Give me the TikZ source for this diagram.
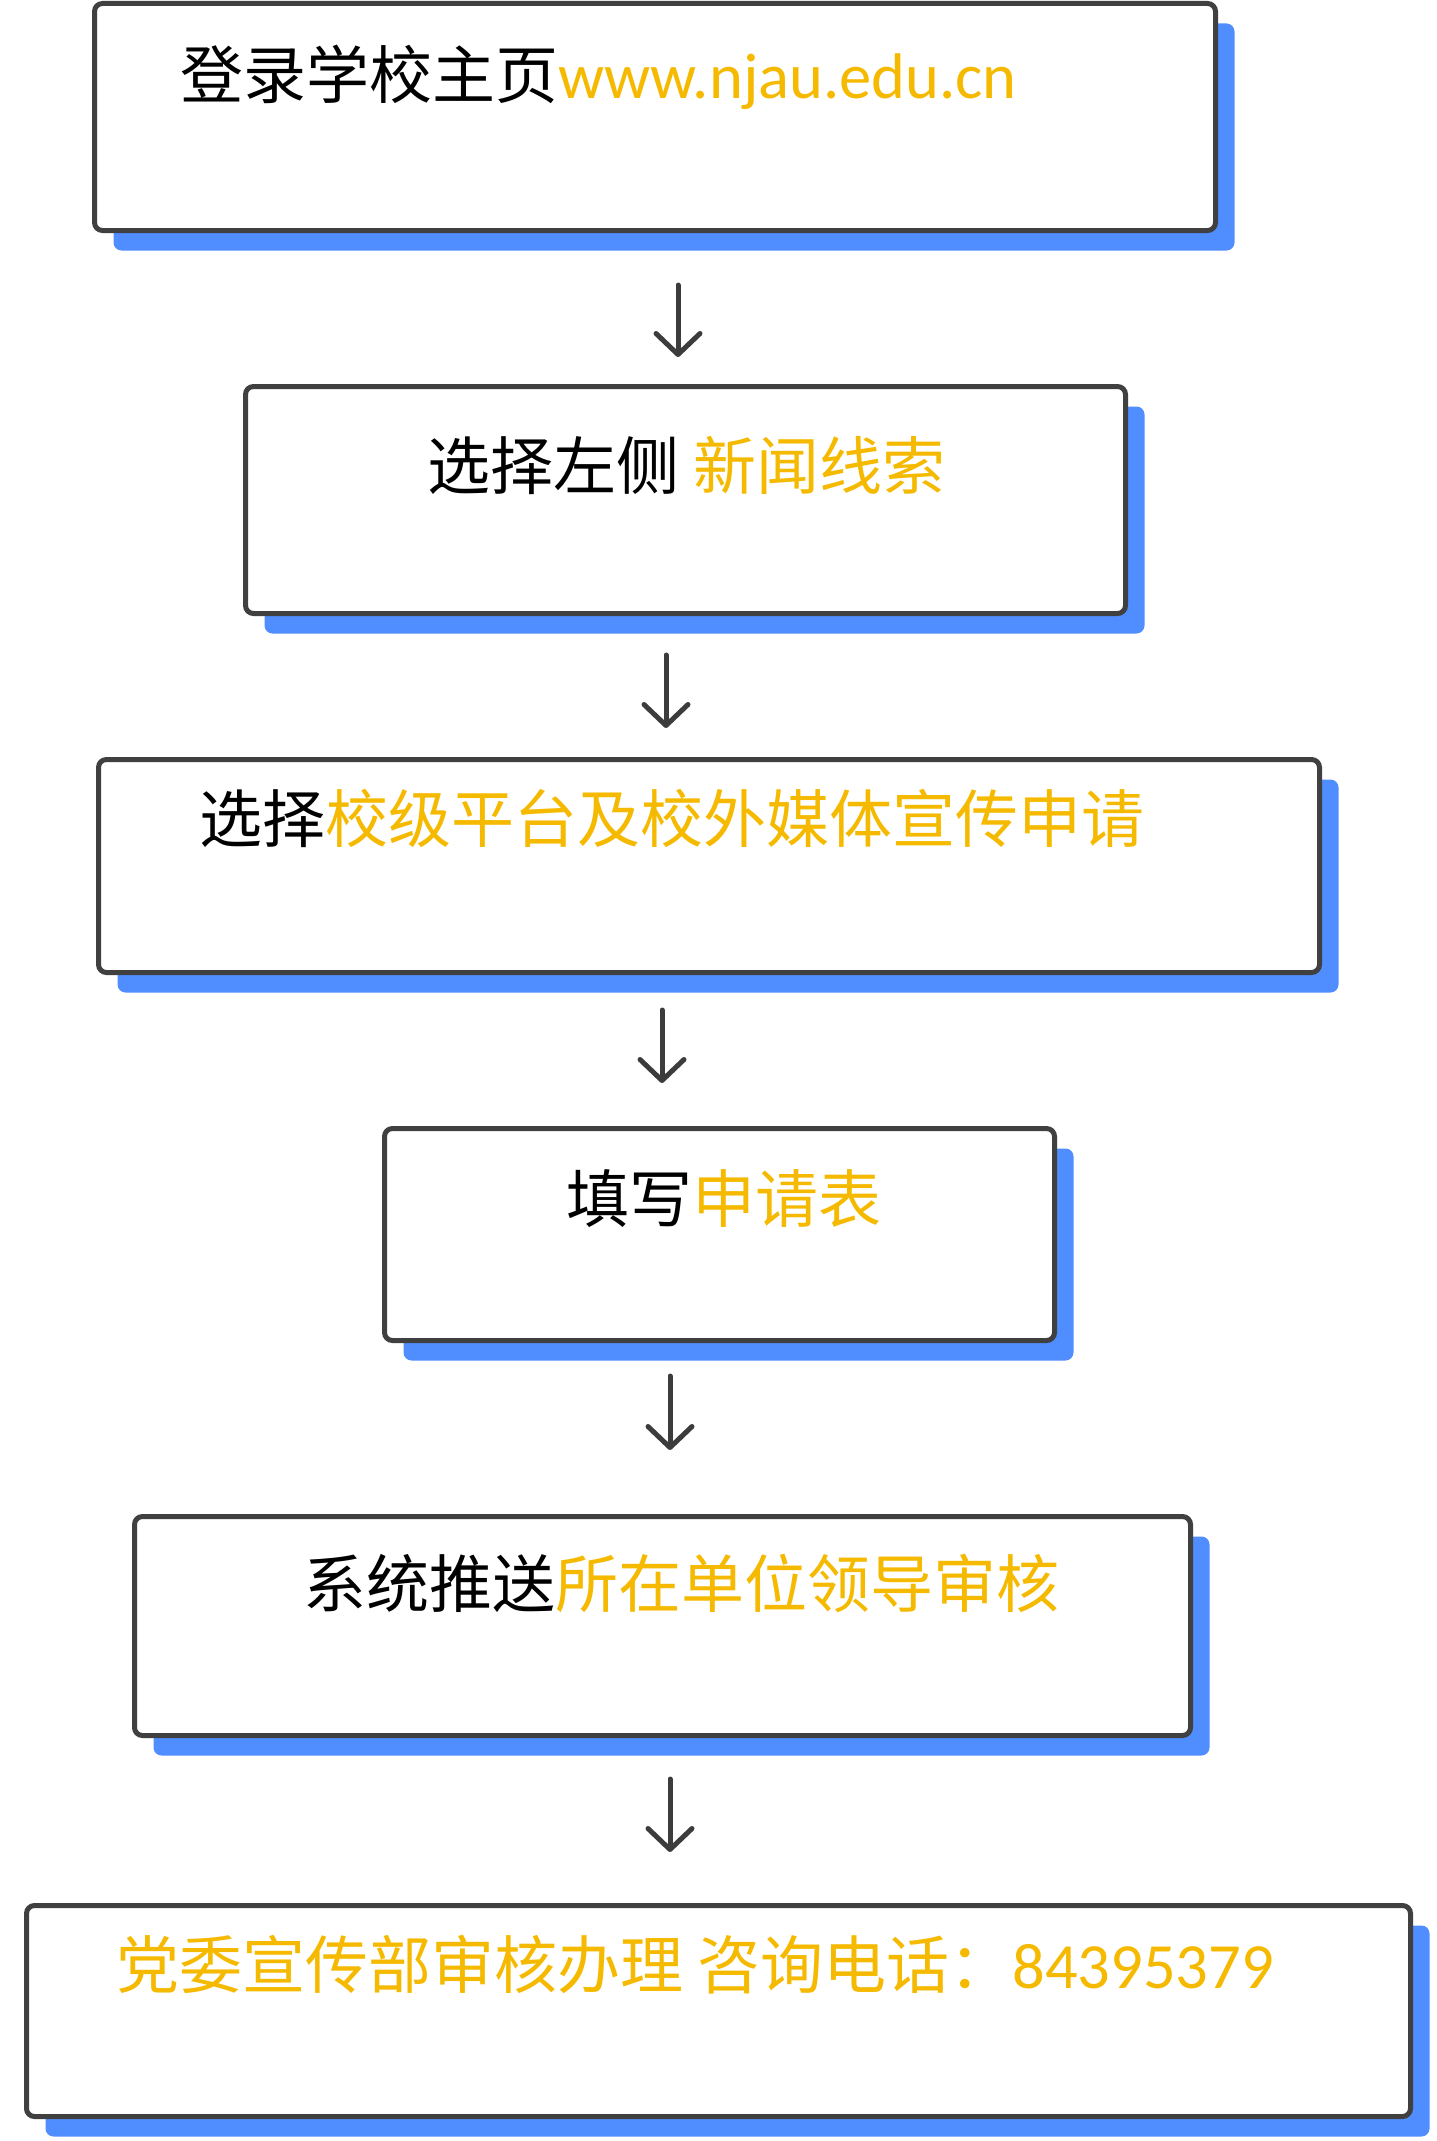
\documentclass[tikz,border=0pt]{standalone}
\usepackage{fontspec}
\setmainfont{Carlito}
\newfontfamily\cjk{Noto Sans CJK SC}
\usetikzlibrary{arrows.meta,shadows}
\definecolor{yel}{RGB}{245,186,0}
\definecolor{shadowblue}{RGB}{80,142,255}
\definecolor{edge}{RGB}{64,64,64}
\definecolor{arrowgray}{RGB}{60,60,60}
\newcommand{\latinbig}{\fontsize{64.5}{75}\selectfont}
\tikzset{
  box/.style={rectangle, rounded corners=8pt, draw=edge, line width=5pt, fill=white,
    general shadow={fill=shadowblue, shadow xshift=19pt, shadow yshift=-20pt}},
  label/.style={anchor=base west, inner sep=0pt, font=\fontsize{63}{75}\selectfont},
  flow/.style={draw=arrowgray, line width=5pt, line cap=round,
    -{Straight Barb[length=21pt,width=44pt,round]}}
}
\begin{document}
\begin{tikzpicture}[x=1pt,y=-1pt]
\useasboundingbox (0,0) rectangle (1436,2141);
% boxes
\node[box, minimum width=1121pt, minimum height=227pt] (b1) at (655,117) {};
\node[box, minimum width=880pt, minimum height=227pt] (b2) at (685.5,500) {};
\node[box, minimum width=1221pt, minimum height=213pt] (b3) at (709,866) {};
\node[box, minimum width=670pt, minimum height=212pt] (b4) at (719.5,1234.5) {};
\node[box, minimum width=1056pt, minimum height=219pt] (b5) at (662.5,1626) {};
\node[box, minimum width=1384pt, minimum height=211pt] (b6) at (718.5,2011) {};
% texts
\node[label] (t1) at (180,98) {{\cjk 登录学校主页}\textcolor{yel}{\latinbig www.njau.edu.cn}};
\node[label] (t2) at (427,489) {{\cjk 选择左侧 \textcolor{yel}{新闻线索}}};
\node[label] (t3) at (199,842) {{\cjk 选择\textcolor{yel}{校级平台及校外媒体宣传申请}}};
\node[label] (t4) at (566,1222) {{\cjk 填写\textcolor{yel}{申请表}}};
\node[label] (t5) at (303,1607) {{\cjk 系统推送\textcolor{yel}{所在单位领导审核}}};
\node[label, text=yel] (t6) at (116,1988) {{\cjk 党委宣传部审核办理 咨询电话：}{\latinbig 84395379}};
% arrows
\coordinate (a1s) at (678,285); \coordinate (a1e) at (678,357);
\coordinate (a2s) at (666,655); \coordinate (a2e) at (666,728);
\coordinate (a3s) at (662,1010); \coordinate (a3e) at (662,1083);
\coordinate (a4s) at (670,1376); \coordinate (a4e) at (670,1450);
\coordinate (a5s) at (670,1779); \coordinate (a5e) at (670,1852);
\draw[flow] (a1s) -- (a1e);
\draw[flow] (a2s) -- (a2e);
\draw[flow] (a3s) -- (a3e);
\draw[flow] (a4s) -- (a4e);
\draw[flow] (a5s) -- (a5e);
\end{tikzpicture}
\end{document}
